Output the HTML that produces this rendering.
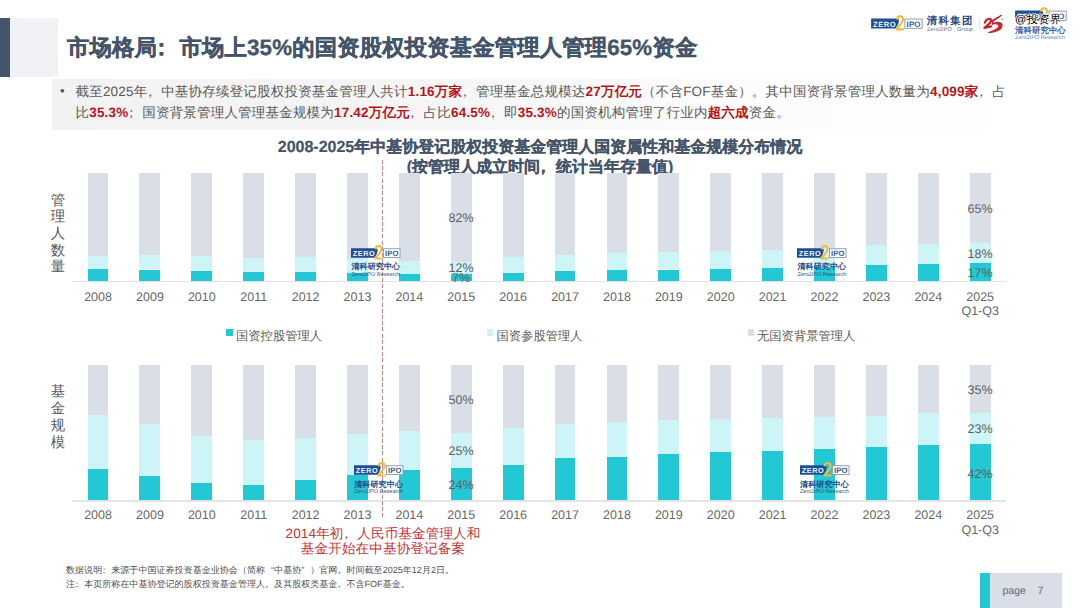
<!DOCTYPE html>
<html><head><meta charset="utf-8">
<style>
*{margin:0;padding:0;box-sizing:border-box}
html,body{width:1080px;height:608px;overflow:hidden;background:#fff}
body{position:relative;font-family:"Liberation Sans",sans-serif;color:#595959;text-rendering:geometricPrecision}
.abs{position:absolute}
.bar{position:absolute;width:20.9px}
.yr{position:absolute;width:60px;text-align:center;font-size:12.5px;line-height:14.4px;color:#686868}
.zlogo{position:absolute;width:50px;height:32px}
.zcn{position:absolute;font-size:8.1px;line-height:9px;font-weight:bold;color:#234A8E;white-space:nowrap;letter-spacing:0.05px}
.zen{position:absolute;font-size:5.5px;line-height:6px;color:#34507F;white-space:nowrap}
.pct{position:absolute;width:40px;text-align:center;font-size:12.5px;line-height:14px;color:#5E5E5E}
.red{color:#B8151A;font-weight:bold}
.pl{position:relative;left:-0.3em}
.leg{position:absolute;font-size:12.3px;line-height:14px;color:#595959;white-space:nowrap}
.sq{position:absolute;width:6.4px;height:6.4px}
</style></head><body>
<!-- header -->
<div class="abs" style="left:0;top:18px;width:10px;height:59px;background:#44546A"></div>
<div class="abs" style="left:10px;top:18px;width:48px;height:59px;background:#F0F2F6"></div>
<div class="abs" style="left:67px;top:32px;font-size:22.3px;letter-spacing:0.2px;line-height:32px;font-weight:bold;color:#44546A;white-space:nowrap;-webkit-text-stroke:0.35px #44546A">市场格局<span class="pl">：</span>市场上35%的国资股权投资基金管理人管理65%资金</div>

<!-- description box -->
<div class="abs" style="left:52px;top:79px;width:938px;height:51px;background:linear-gradient(to right,#F2F2F2 0%,#F4F4F4 30%,#F8F8F8 55%,#FCFCFC 75%,#FEFEFE 100%)"></div>
<div class="abs" style="left:60px;top:80.5px;font-size:13px;color:#44546A;line-height:20.7px">•</div>
<div class="abs" style="left:75.5px;top:82px;width:960px;font-size:13.5px;line-height:20.7px;color:#595959;letter-spacing:0.2px">截至2025年<span class="pl">，</span>中基协存续登记股权投资基金管理人共计<span class="red">1.16万家</span><span class="pl">，</span>管理基金总规模达<span class="red">27万亿元</span>（不含FOF基金）。其中国资背景管理人数量为<span class="red">4,099家</span><span class="pl">，</span>占<br>比<span class="red">35.3%</span><span class="pl">；</span>国资背景管理人管理基金规模为<span class="red">17.42万亿元</span><span class="pl">，</span>占比<span class="red">64.5%</span><span class="pl">，</span>即<span class="red">35.3%</span>的国资机构管理了行业内<span class="red">超六成</span>资金。</div>

<!-- chart title -->
<div class="abs" style="left:240px;top:138px;width:600px;text-align:center;font-size:16px;line-height:19.5px;font-weight:bold;color:#44546A;-webkit-text-stroke:0.2px #44546A">2008-2025年中基协登记股权投资基金管理人国资属性和基金规模分布情况<br>(按管理人成立时间<span class="pl">，</span>统计当年存量值)</div>

<!-- y labels -->
<div class="abs" style="left:50.8px;top:192.6px;width:16px;font-size:14.4px;line-height:16.7px;color:#595959">管<br>理<br>人<br>数<br>量</div>
<div class="abs" style="left:50.8px;top:384.4px;width:16px;font-size:14.4px;line-height:16.7px;color:#595959">基<br>金<br>规<br>模</div>

<!-- top chart -->
<div class="bar" style="left:87.59px;top:173px;height:82.70px;background:#D9DEE7"></div>
<div class="bar" style="left:87.59px;top:255.70px;height:13.00px;background:#CDF4F6"></div>
<div class="bar" style="left:87.59px;top:268.70px;height:12.60px;background:#22C8D3"></div>
<div class="bar" style="left:139.49px;top:173px;height:82.10px;background:#D9DEE7"></div>
<div class="bar" style="left:139.49px;top:255.10px;height:14.40px;background:#CDF4F6"></div>
<div class="bar" style="left:139.49px;top:269.50px;height:11.80px;background:#22C8D3"></div>
<div class="bar" style="left:191.38px;top:173px;height:83.20px;background:#D9DEE7"></div>
<div class="bar" style="left:191.38px;top:256.20px;height:15.10px;background:#CDF4F6"></div>
<div class="bar" style="left:191.38px;top:271.30px;height:10.00px;background:#22C8D3"></div>
<div class="bar" style="left:243.27px;top:173px;height:84.90px;background:#D9DEE7"></div>
<div class="bar" style="left:243.27px;top:257.90px;height:14.40px;background:#CDF4F6"></div>
<div class="bar" style="left:243.27px;top:272.30px;height:9.00px;background:#22C8D3"></div>
<div class="bar" style="left:295.16px;top:173px;height:84.30px;background:#D9DEE7"></div>
<div class="bar" style="left:295.16px;top:257.30px;height:14.60px;background:#CDF4F6"></div>
<div class="bar" style="left:295.16px;top:271.90px;height:9.40px;background:#22C8D3"></div>
<div class="bar" style="left:347.05px;top:173px;height:85.80px;background:#D9DEE7"></div>
<div class="bar" style="left:347.05px;top:258.80px;height:14.00px;background:#CDF4F6"></div>
<div class="bar" style="left:347.05px;top:272.80px;height:8.50px;background:#22C8D3"></div>
<div class="bar" style="left:398.94px;top:173px;height:88.00px;background:#D9DEE7"></div>
<div class="bar" style="left:398.94px;top:261.00px;height:13.30px;background:#CDF4F6"></div>
<div class="bar" style="left:398.94px;top:274.30px;height:7.00px;background:#22C8D3"></div>
<div class="bar" style="left:450.82px;top:173px;height:89.20px;background:#D9DEE7"></div>
<div class="bar" style="left:450.82px;top:262.20px;height:12.10px;background:#CDF4F6"></div>
<div class="bar" style="left:450.82px;top:274.30px;height:7.00px;background:#22C8D3"></div>
<div class="bar" style="left:502.71px;top:173px;height:84.00px;background:#D9DEE7"></div>
<div class="bar" style="left:502.71px;top:257.00px;height:16.20px;background:#CDF4F6"></div>
<div class="bar" style="left:502.71px;top:273.20px;height:8.10px;background:#22C8D3"></div>
<div class="bar" style="left:554.60px;top:173px;height:81.60px;background:#D9DEE7"></div>
<div class="bar" style="left:554.60px;top:254.60px;height:16.50px;background:#CDF4F6"></div>
<div class="bar" style="left:554.60px;top:271.10px;height:10.20px;background:#22C8D3"></div>
<div class="bar" style="left:606.50px;top:173px;height:80.30px;background:#D9DEE7"></div>
<div class="bar" style="left:606.50px;top:253.30px;height:16.90px;background:#CDF4F6"></div>
<div class="bar" style="left:606.50px;top:270.20px;height:11.10px;background:#22C8D3"></div>
<div class="bar" style="left:658.38px;top:173px;height:79.20px;background:#D9DEE7"></div>
<div class="bar" style="left:658.38px;top:252.20px;height:17.30px;background:#CDF4F6"></div>
<div class="bar" style="left:658.38px;top:269.50px;height:11.80px;background:#22C8D3"></div>
<div class="bar" style="left:710.27px;top:173px;height:77.90px;background:#D9DEE7"></div>
<div class="bar" style="left:710.27px;top:250.90px;height:18.00px;background:#CDF4F6"></div>
<div class="bar" style="left:710.27px;top:268.90px;height:12.40px;background:#22C8D3"></div>
<div class="bar" style="left:762.16px;top:173px;height:76.90px;background:#D9DEE7"></div>
<div class="bar" style="left:762.16px;top:249.90px;height:18.30px;background:#CDF4F6"></div>
<div class="bar" style="left:762.16px;top:268.20px;height:13.10px;background:#22C8D3"></div>
<div class="bar" style="left:814.05px;top:173px;height:75.30px;background:#D9DEE7"></div>
<div class="bar" style="left:814.05px;top:248.30px;height:18.60px;background:#CDF4F6"></div>
<div class="bar" style="left:814.05px;top:266.90px;height:14.40px;background:#22C8D3"></div>
<div class="bar" style="left:865.94px;top:173px;height:72.40px;background:#D9DEE7"></div>
<div class="bar" style="left:865.94px;top:245.40px;height:19.30px;background:#CDF4F6"></div>
<div class="bar" style="left:865.94px;top:264.70px;height:16.60px;background:#22C8D3"></div>
<div class="bar" style="left:917.84px;top:173px;height:71.20px;background:#D9DEE7"></div>
<div class="bar" style="left:917.84px;top:244.20px;height:19.90px;background:#CDF4F6"></div>
<div class="bar" style="left:917.84px;top:264.10px;height:17.20px;background:#22C8D3"></div>
<div class="bar" style="left:969.73px;top:173px;height:70.30px;background:#D9DEE7"></div>
<div class="bar" style="left:969.73px;top:243.30px;height:19.80px;background:#CDF4F6"></div>
<div class="bar" style="left:969.73px;top:263.10px;height:18.20px;background:#22C8D3"></div>
<div class="abs" style="left:72px;top:281.2px;width:934px;height:1.2px;background:#E4E4E4"></div>
<div class="yr" style="left:68.04px;top:289.5px">2008</div>
<div class="yr" style="left:119.94px;top:289.5px">2009</div>
<div class="yr" style="left:171.82px;top:289.5px">2010</div>
<div class="yr" style="left:223.72px;top:289.5px">2011</div>
<div class="yr" style="left:275.61px;top:289.5px">2012</div>
<div class="yr" style="left:327.50px;top:289.5px">2013</div>
<div class="yr" style="left:379.38px;top:289.5px">2014</div>
<div class="yr" style="left:431.27px;top:289.5px">2015</div>
<div class="yr" style="left:483.16px;top:289.5px">2016</div>
<div class="yr" style="left:535.05px;top:289.5px">2017</div>
<div class="yr" style="left:586.95px;top:289.5px">2018</div>
<div class="yr" style="left:638.84px;top:289.5px">2019</div>
<div class="yr" style="left:690.73px;top:289.5px">2020</div>
<div class="yr" style="left:742.62px;top:289.5px">2021</div>
<div class="yr" style="left:794.50px;top:289.5px">2022</div>
<div class="yr" style="left:846.39px;top:289.5px">2023</div>
<div class="yr" style="left:898.29px;top:289.5px">2024</div>
<div class="yr" style="left:950.18px;top:289.5px">2025<br>Q1-Q3</div>

<!-- bottom chart -->
<div class="bar" style="left:87.59px;top:365px;height:49.70px;background:#D9DEE7"></div>
<div class="bar" style="left:87.59px;top:414.70px;height:54.50px;background:#CDF4F6"></div>
<div class="bar" style="left:87.59px;top:469.20px;height:31.40px;background:#22C8D3"></div>
<div class="bar" style="left:139.49px;top:365px;height:59.00px;background:#D9DEE7"></div>
<div class="bar" style="left:139.49px;top:424.00px;height:51.80px;background:#CDF4F6"></div>
<div class="bar" style="left:139.49px;top:475.80px;height:24.80px;background:#22C8D3"></div>
<div class="bar" style="left:191.38px;top:365px;height:70.60px;background:#D9DEE7"></div>
<div class="bar" style="left:191.38px;top:435.60px;height:47.60px;background:#CDF4F6"></div>
<div class="bar" style="left:191.38px;top:483.20px;height:17.40px;background:#22C8D3"></div>
<div class="bar" style="left:243.27px;top:365px;height:75.10px;background:#D9DEE7"></div>
<div class="bar" style="left:243.27px;top:440.10px;height:44.90px;background:#CDF4F6"></div>
<div class="bar" style="left:243.27px;top:485.00px;height:15.60px;background:#22C8D3"></div>
<div class="bar" style="left:295.16px;top:365px;height:73.10px;background:#D9DEE7"></div>
<div class="bar" style="left:295.16px;top:438.10px;height:41.90px;background:#CDF4F6"></div>
<div class="bar" style="left:295.16px;top:480.00px;height:20.60px;background:#22C8D3"></div>
<div class="bar" style="left:347.05px;top:365px;height:68.90px;background:#D9DEE7"></div>
<div class="bar" style="left:347.05px;top:433.90px;height:41.20px;background:#CDF4F6"></div>
<div class="bar" style="left:347.05px;top:475.10px;height:25.50px;background:#22C8D3"></div>
<div class="bar" style="left:398.94px;top:365px;height:66.00px;background:#D9DEE7"></div>
<div class="bar" style="left:398.94px;top:431.00px;height:39.40px;background:#CDF4F6"></div>
<div class="bar" style="left:398.94px;top:470.40px;height:30.20px;background:#22C8D3"></div>
<div class="bar" style="left:450.82px;top:365px;height:68.40px;background:#D9DEE7"></div>
<div class="bar" style="left:450.82px;top:433.40px;height:34.30px;background:#CDF4F6"></div>
<div class="bar" style="left:450.82px;top:467.70px;height:32.90px;background:#22C8D3"></div>
<div class="bar" style="left:502.71px;top:365px;height:62.70px;background:#D9DEE7"></div>
<div class="bar" style="left:502.71px;top:427.70px;height:37.50px;background:#CDF4F6"></div>
<div class="bar" style="left:502.71px;top:465.20px;height:35.40px;background:#22C8D3"></div>
<div class="bar" style="left:554.60px;top:365px;height:59.00px;background:#D9DEE7"></div>
<div class="bar" style="left:554.60px;top:424.00px;height:34.10px;background:#CDF4F6"></div>
<div class="bar" style="left:554.60px;top:458.10px;height:42.50px;background:#22C8D3"></div>
<div class="bar" style="left:606.50px;top:365px;height:57.30px;background:#D9DEE7"></div>
<div class="bar" style="left:606.50px;top:422.30px;height:34.30px;background:#CDF4F6"></div>
<div class="bar" style="left:606.50px;top:456.60px;height:44.00px;background:#22C8D3"></div>
<div class="bar" style="left:658.38px;top:365px;height:55.40px;background:#D9DEE7"></div>
<div class="bar" style="left:658.38px;top:420.40px;height:33.70px;background:#CDF4F6"></div>
<div class="bar" style="left:658.38px;top:454.10px;height:46.50px;background:#22C8D3"></div>
<div class="bar" style="left:710.27px;top:365px;height:53.60px;background:#D9DEE7"></div>
<div class="bar" style="left:710.27px;top:418.60px;height:33.30px;background:#CDF4F6"></div>
<div class="bar" style="left:710.27px;top:451.90px;height:48.70px;background:#22C8D3"></div>
<div class="bar" style="left:762.16px;top:365px;height:53.10px;background:#D9DEE7"></div>
<div class="bar" style="left:762.16px;top:418.10px;height:32.80px;background:#CDF4F6"></div>
<div class="bar" style="left:762.16px;top:450.90px;height:49.70px;background:#22C8D3"></div>
<div class="bar" style="left:814.05px;top:365px;height:52.40px;background:#D9DEE7"></div>
<div class="bar" style="left:814.05px;top:417.40px;height:31.60px;background:#CDF4F6"></div>
<div class="bar" style="left:814.05px;top:449.00px;height:51.60px;background:#22C8D3"></div>
<div class="bar" style="left:865.94px;top:365px;height:50.70px;background:#D9DEE7"></div>
<div class="bar" style="left:865.94px;top:415.70px;height:31.30px;background:#CDF4F6"></div>
<div class="bar" style="left:865.94px;top:447.00px;height:53.60px;background:#22C8D3"></div>
<div class="bar" style="left:917.84px;top:365px;height:48.40px;background:#D9DEE7"></div>
<div class="bar" style="left:917.84px;top:413.40px;height:31.40px;background:#CDF4F6"></div>
<div class="bar" style="left:917.84px;top:444.80px;height:55.80px;background:#22C8D3"></div>
<div class="bar" style="left:969.73px;top:365px;height:47.70px;background:#D9DEE7"></div>
<div class="bar" style="left:969.73px;top:412.70px;height:31.10px;background:#CDF4F6"></div>
<div class="bar" style="left:969.73px;top:443.80px;height:56.80px;background:#22C8D3"></div>
<div class="abs" style="left:72px;top:500.4px;width:934px;height:1.2px;background:#E4E4E4"></div>
<div class="yr" style="left:68.04px;top:508.3px">2008</div>
<div class="yr" style="left:119.94px;top:508.3px">2009</div>
<div class="yr" style="left:171.82px;top:508.3px">2010</div>
<div class="yr" style="left:223.72px;top:508.3px">2011</div>
<div class="yr" style="left:275.61px;top:508.3px">2012</div>
<div class="yr" style="left:327.50px;top:508.3px">2013</div>
<div class="yr" style="left:379.38px;top:508.3px">2014</div>
<div class="yr" style="left:431.27px;top:508.3px">2015</div>
<div class="yr" style="left:483.16px;top:508.3px">2016</div>
<div class="yr" style="left:535.05px;top:508.3px">2017</div>
<div class="yr" style="left:586.95px;top:508.3px">2018</div>
<div class="yr" style="left:638.84px;top:508.3px">2019</div>
<div class="yr" style="left:690.73px;top:508.3px">2020</div>
<div class="yr" style="left:742.62px;top:508.3px">2021</div>
<div class="yr" style="left:794.50px;top:508.3px">2022</div>
<div class="yr" style="left:846.39px;top:508.3px">2023</div>
<div class="yr" style="left:898.29px;top:508.3px">2024</div>
<div class="yr" style="left:950.18px;top:508.3px">2025<br>Q1-Q3</div>

<!-- percentages -->
<div class="pct" style="left:441px;top:211px">82%</div>
<div class="pct" style="left:441px;top:261px">12%</div>
<div class="pct" style="left:441px;top:271px">7%</div>
<div class="pct" style="left:960px;top:201.5px">65%</div>
<div class="pct" style="left:960px;top:247px">18%</div>
<div class="pct" style="left:960px;top:266px">17%</div>
<div class="pct" style="left:441px;top:393px">50%</div>
<div class="pct" style="left:441px;top:444px">25%</div>
<div class="pct" style="left:441px;top:477.5px">24%</div>
<div class="pct" style="left:960px;top:382.5px">35%</div>
<div class="pct" style="left:960px;top:422px">23%</div>
<div class="pct" style="left:960px;top:466.5px">42%</div>

<!-- legend -->
<div class="sq" style="left:226.4px;top:329.2px;background:#22C8D3"></div>
<div class="leg" style="left:236px;top:328.5px">国资控股管理人</div>
<div class="sq" style="left:486.8px;top:329.2px;background:#CDF4F6"></div>
<div class="leg" style="left:496.5px;top:328.5px">国资参股管理人</div>
<div class="sq" style="left:747.6px;top:329.2px;background:#D9DEE7"></div>
<div class="leg" style="left:757px;top:328.5px">无国资背景管理人</div>

<!-- dashed line -->
<div class="abs" style="left:382px;top:160px;width:1px;height:358px;background:repeating-linear-gradient(to bottom,#D08484 0,#D08484 4px,transparent 4px,transparent 6.2px)"></div>

<!-- in-chart logos -->
<svg class="abs" width="57.60" height="23.04" viewBox="0 0 60 24" style="left:348.42px;top:239.94px"><path d="M3.1 8.6 H29.6 C31.6 8.6 31.2 12.6 29.3 15.8 L27.6 18.6 H3.1 Z" fill="#1F4E97"/><text x="5.0" y="16.5" font-family="Liberation Sans" font-weight="bold" font-size="7.6" fill="#EEF3FB" letter-spacing="0.55">ZERO</text><rect x="36.9" y="9.1" width="17.3" height="9.2" fill="#FFFFFF" stroke="#8D9CB9" stroke-width="1"/><text x="38.6" y="16.5" font-family="Liberation Sans" font-weight="bold" font-size="8.0" fill="#3A5892" letter-spacing="0.1">IPO</text><path d="M28.9 9.6 C29 7.2 30.6 6.3 32 6.3 C33.8 6.3 35 7.5 35 9.3 C35 12.2 31 15.6 28.6 19.4 H36" fill="none" stroke="#F1BC38" stroke-width="2.1" stroke-linejoin="round"/></svg>
<div class="zcn" style="left:351.40px;top:262.40px">清科研究中心</div>
<div class="zen" style="left:351.40px;top:271.80px">Zero2IPO Research</div>
<svg class="abs" width="57.60" height="23.04" viewBox="0 0 60 24" style="left:794.42px;top:239.84px"><path d="M3.1 8.6 H29.6 C31.6 8.6 31.2 12.6 29.3 15.8 L27.6 18.6 H3.1 Z" fill="#1F4E97"/><text x="5.0" y="16.5" font-family="Liberation Sans" font-weight="bold" font-size="7.6" fill="#EEF3FB" letter-spacing="0.55">ZERO</text><rect x="36.9" y="9.1" width="17.3" height="9.2" fill="#FFFFFF" stroke="#8D9CB9" stroke-width="1"/><text x="38.6" y="16.5" font-family="Liberation Sans" font-weight="bold" font-size="8.0" fill="#3A5892" letter-spacing="0.1">IPO</text><path d="M28.9 9.6 C29 7.2 30.6 6.3 32 6.3 C33.8 6.3 35 7.5 35 9.3 C35 12.2 31 15.6 28.6 19.4 H36" fill="none" stroke="#F1BC38" stroke-width="2.1" stroke-linejoin="round"/></svg>
<div class="zcn" style="left:797.40px;top:262.30px">清科研究中心</div>
<div class="zen" style="left:797.40px;top:271.70px">Zero2IPO Research</div>
<svg class="abs" width="57.60" height="23.04" viewBox="0 0 60 24" style="left:351.22px;top:457.24px"><path d="M3.1 8.6 H29.6 C31.6 8.6 31.2 12.6 29.3 15.8 L27.6 18.6 H3.1 Z" fill="#1F4E97"/><text x="5.0" y="16.5" font-family="Liberation Sans" font-weight="bold" font-size="7.6" fill="#EEF3FB" letter-spacing="0.55">ZERO</text><rect x="36.9" y="9.1" width="17.3" height="9.2" fill="#FFFFFF" stroke="#8D9CB9" stroke-width="1"/><text x="38.6" y="16.5" font-family="Liberation Sans" font-weight="bold" font-size="8.0" fill="#3A5892" letter-spacing="0.1">IPO</text><path d="M28.9 9.6 C29 7.2 30.6 6.3 32 6.3 C33.8 6.3 35 7.5 35 9.3 C35 12.2 31 15.6 28.6 19.4 H36" fill="none" stroke="#F1BC38" stroke-width="2.1" stroke-linejoin="round"/></svg>
<div class="zcn" style="left:354.20px;top:479.70px">清科研究中心</div>
<div class="zen" style="left:354.20px;top:489.10px">Zero2IPO Research</div>
<svg class="abs" width="57.60" height="23.04" viewBox="0 0 60 24" style="left:797.02px;top:457.24px"><path d="M3.1 8.6 H29.6 C31.6 8.6 31.2 12.6 29.3 15.8 L27.6 18.6 H3.1 Z" fill="#1F4E97"/><text x="5.0" y="16.5" font-family="Liberation Sans" font-weight="bold" font-size="7.6" fill="#EEF3FB" letter-spacing="0.55">ZERO</text><rect x="36.9" y="9.1" width="17.3" height="9.2" fill="#FFFFFF" stroke="#8D9CB9" stroke-width="1"/><text x="38.6" y="16.5" font-family="Liberation Sans" font-weight="bold" font-size="8.0" fill="#3A5892" letter-spacing="0.1">IPO</text><path d="M28.9 9.6 C29 7.2 30.6 6.3 32 6.3 C33.8 6.3 35 7.5 35 9.3 C35 12.2 31 15.6 28.6 19.4 H36" fill="none" stroke="#F1BC38" stroke-width="2.1" stroke-linejoin="round"/></svg>
<div class="zcn" style="left:800.00px;top:479.70px">清科研究中心</div>
<div class="zen" style="left:800.00px;top:489.10px">Zero2IPO Research</div>

<!-- annotation -->
<div class="abs" style="left:233px;top:526px;width:300px;text-align:center;font-size:13.6px;line-height:15px;letter-spacing:0.1px;color:#C8323A">2014年初<span class="pl">，</span>人民币基金管理人和<br>基金开始在中基协登记备案</div>

<!-- footnotes -->
<div class="abs" style="left:66px;top:563px;font-size:9.05px;line-height:14px;color:#505050;white-space:nowrap">数据说明<span class="pl">：</span>来源于中国证券投资基金业协会（简称<span style="display:inline-block;width:1em;text-align:right">“</span>中基协<span style="display:inline-block;width:1em;text-align:left">”</span>）官网<span class="pl">，</span>时间截至2025年12月2日。<br>注<span class="pl">：</span>本页所称在中基协登记的股权投资基金管理人<span class="pl">，</span>及其股权类基金<span class="pl">，</span>不含FOF基金。</div>

<!-- page -->
<div class="abs" style="left:980px;top:573.4px;width:10px;height:35px;background:#22C8D3"></div>
<div class="abs" style="left:990px;top:573.4px;width:72px;height:35px;background:#D9DEE7"></div>
<div class="abs" style="left:1002.5px;top:585px;font-size:10.5px;line-height:12px;color:#5B6B80;white-space:nowrap">page&nbsp;&nbsp;&nbsp;&nbsp;7</div>

<!-- top right logos -->
<svg class="abs" width="60.00" height="24.00" viewBox="0 0 60 24" style="left:868.00px;top:10.00px"><path d="M3.1 8.6 H29.6 C31.6 8.6 31.2 12.6 29.3 15.8 L27.6 18.6 H3.1 Z" fill="#1F4E97"/><text x="5.0" y="16.5" font-family="Liberation Sans" font-weight="bold" font-size="7.6" fill="#EEF3FB" letter-spacing="0.55">ZERO</text><rect x="36.9" y="9.1" width="17.3" height="9.2" fill="#FFFFFF" stroke="#8D9CB9" stroke-width="1"/><text x="38.6" y="16.5" font-family="Liberation Sans" font-weight="bold" font-size="8.0" fill="#3A5892" letter-spacing="0.1">IPO</text><path d="M28.9 9.6 C29 7.2 30.6 6.3 32 6.3 C33.8 6.3 35 7.5 35 9.3 C35 12.2 31 15.6 28.6 19.4 H36" fill="none" stroke="#F1BC38" stroke-width="2.1" stroke-linejoin="round"/></svg>
<div class="abs" style="left:926.8px;top:16.2px;font-size:10.4px;line-height:11px;font-weight:bold;color:#284A8C;white-space:nowrap;letter-spacing:1.35px">清科集团</div>
<div class="abs" style="left:927px;top:27px;font-size:5.6px;line-height:6px;color:#5E6E8E;white-space:nowrap;letter-spacing:0.1px">Zero2IPO&nbsp;&nbsp;&nbsp;Group</div>
<div class="abs" style="left:978.5px;top:17.7px;width:1px;height:11px;background:#E2E2E2"></div>
<svg class="abs" width="32" height="26" viewBox="0 0 32 26" style="left:978px;top:10px">
<path d="M6.9 12.6 C7.4 9.6 10.4 8.4 12.2 9.0 C13.8 9.6 13.0 12.4 10.8 14.2 C9.4 15.4 7.6 16.6 6.4 18.0 C8.6 17.2 11.0 16.9 13.2 16.4" fill="none" stroke="#C4262D" stroke-width="2.2" stroke-linecap="round" stroke-linejoin="round"/>
<path d="M14.6 10.4 C17.4 8.8 20.6 6.8 23.6 5.2 C21.2 7.6 18.2 9.2 15.4 10.8 Z" fill="#C4262D" stroke="#C4262D" stroke-width="1.1" stroke-linejoin="round"/>
<path d="M15.2 10.4 L14.5 13.9" fill="none" stroke="#C4262D" stroke-width="1.8" stroke-linecap="round"/>
<path d="M14.5 13.9 C18.8 11.4 24.6 11.9 24.0 15.9 C23.5 19.6 17.6 22.0 10.8 22.6 C16.6 20.6 20.8 18.8 21.0 15.9 C21.2 13.9 17.9 13.5 14.5 13.9 Z" fill="#C4262D" stroke="#C4262D" stroke-width="1.1" stroke-linejoin="round"/>
<circle cx="24.2" cy="9.4" r="0.6" fill="#B06060"/>
</svg>
<svg class="abs" width="60.00" height="24.00" viewBox="0 0 60 24" style="left:1011.90px;top:2.00px"><path d="M3.1 8.6 H29.6 C31.6 8.6 31.2 12.6 29.3 15.8 L27.6 18.6 H3.1 Z" fill="#1F4E97"/><text x="5.0" y="16.5" font-family="Liberation Sans" font-weight="bold" font-size="7.6" fill="#EEF3FB" letter-spacing="0.55">ZERO</text><rect x="36.9" y="9.1" width="17.3" height="9.2" fill="#FFFFFF" stroke="#8D9CB9" stroke-width="1"/><text x="38.6" y="16.5" font-family="Liberation Sans" font-weight="bold" font-size="8.0" fill="#3A5892" letter-spacing="0.1">IPO</text><path d="M28.9 9.6 C29 7.2 30.6 6.3 32 6.3 C33.8 6.3 35 7.5 35 9.3 C35 12.2 31 15.6 28.6 19.4 H36" fill="none" stroke="#F1BC38" stroke-width="2.1" stroke-linejoin="round"/></svg>
<div class="abs" style="left:1015px;top:25.5px;font-size:8.4px;line-height:9px;font-weight:bold;color:#3960A6;white-space:nowrap;letter-spacing:0.1px">清科研究中心</div>
<div class="abs" style="left:1015px;top:35.4px;font-size:5.6px;line-height:6px;color:#6F84AA;white-space:nowrap">Zero2IPO Research</div>
<div class="abs" style="left:1015px;top:13.5px;font-size:11.2px;line-height:13px;color:#000;letter-spacing:0.4px;white-space:nowrap;text-shadow:0 0 1px #fff,1px 0 0 #fff,-1px 0 0 #fff,0 1px 0 #fff,0 -1px 0 #fff">@投资界</div>
</body></html>
